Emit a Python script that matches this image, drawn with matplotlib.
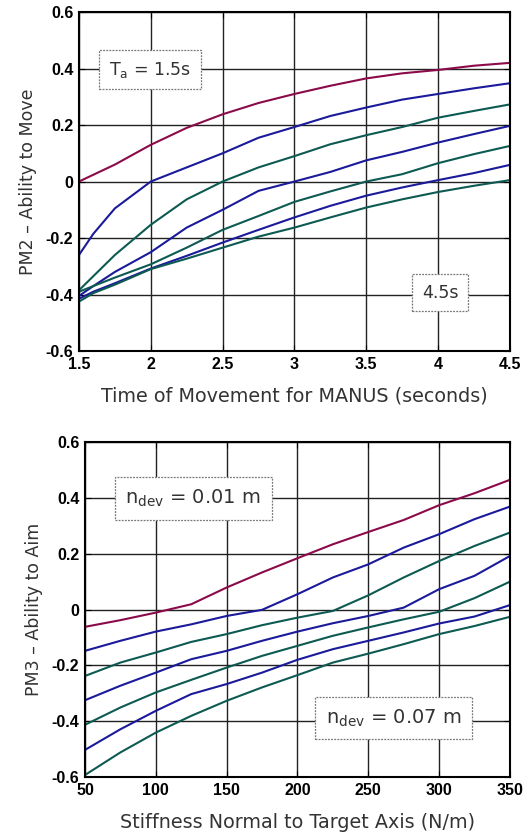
import numpy as np
import matplotlib.pyplot as plt

# PM2 vs time of movement (top panel)
time_s = [1.5, 1.6, 1.75, 2.0, 2.25, 2.5, 2.75, 3.0, 3.25, 3.5, 3.75, 4.0, 4.25, 4.5]
pm2_curves = [
    [0.0, 0.024, 0.06, 0.13, 0.19, 0.238, 0.278, 0.31, 0.339, 0.365, 0.383, 0.395, 0.41, 0.42],
    [-0.26, -0.185, -0.095, 0.0, 0.05, 0.10, 0.155, 0.193, 0.232, 0.262, 0.29, 0.31, 0.33, 0.348],
    [-0.385, -0.335, -0.26, -0.153, -0.063, 0.0, 0.05, 0.09, 0.132, 0.164, 0.193, 0.226, 0.25, 0.273],
    [-0.405, -0.37, -0.32, -0.25, -0.163, -0.10, -0.033, 0.0, 0.034, 0.075, 0.105, 0.138, 0.168, 0.197],
    [-0.39, -0.37, -0.34, -0.293, -0.234, -0.171, -0.122, -0.072, -0.035, 0.0, 0.026, 0.065, 0.097, 0.126],
    [-0.415, -0.39, -0.36, -0.308, -0.263, -0.216, -0.171, -0.127, -0.086, -0.05, -0.021, 0.005, 0.03, 0.059],
    [-0.425, -0.395, -0.365, -0.31, -0.273, -0.234, -0.195, -0.163, -0.127, -0.092, -0.063, -0.037, -0.015, 0.005],
]

# PM3 vs stiffness (bottom panel)
stiffness = [50, 75, 100, 125, 150, 175, 200, 225, 250, 275, 300, 325, 350]
pm3_curves = [
    [-0.062, -0.038, -0.011, 0.019, 0.079, 0.133, 0.184, 0.234, 0.278, 0.321, 0.374, 0.417, 0.465],
    [-0.148, -0.112, -0.079, -0.053, -0.023, -0.001, 0.055, 0.115, 0.162, 0.222, 0.27, 0.324, 0.369],
    [-0.238, -0.19, -0.154, -0.116, -0.088, -0.056, -0.029, -0.005, 0.051, 0.115, 0.174, 0.228, 0.276],
    [-0.325, -0.273, -0.226, -0.178, -0.148, -0.112, -0.079, -0.049, -0.023, 0.007, 0.073, 0.121, 0.192],
    [-0.413, -0.351, -0.297, -0.252, -0.208, -0.166, -0.13, -0.094, -0.064, -0.035, -0.008, 0.041, 0.10],
    [-0.503, -0.429, -0.363, -0.303, -0.267, -0.226, -0.18, -0.142, -0.112, -0.082, -0.05, -0.025, 0.016],
    [-0.593, -0.512, -0.441, -0.381, -0.327, -0.279, -0.235, -0.19, -0.158, -0.124, -0.088, -0.059, -0.026],
]

line_colors = ['#8b0a4a', '#1a1a9a', '#0d5a52', '#1a1a9a', '#0d5a52', '#1a1a9a', '#0d5a52']
yticks = [-0.6, -0.4, -0.2, 0, 0.2, 0.4, 0.6]
ytick_labels = ['-0.6', '-0.4', '-0.2', '0', '0.2', '0.4', '0.6']

fig = plt.figure(figsize=(5.23, 8.35), dpi=100)
ax1 = fig.add_axes([0.151, 0.5796, 0.824, 0.406])
ax2 = fig.add_axes([0.1625, 0.0695, 0.8126, 0.401])

box_style = dict(boxstyle='square,pad=0.55', fc='white', ec='#777777', ls=(0, (1.5, 1)), lw=0.9)


def style_axes(ax, xticks, xlabels, ylabel, xlabel):
    ax.set_yticks(yticks)
    ax.set_yticklabels(ytick_labels)
    ax.set_xticks(xticks)
    ax.set_xticklabels(xlabels)
    ax.set_ylim(-0.6, 0.6)
    ax.grid(True, color='#222222', lw=1.0)
    ax.set_axisbelow(True)
    ax.tick_params(direction='in', length=4, top=True, right=True, labelsize=11.5, pad=4)
    for lab in ax.get_xticklabels() + ax.get_yticklabels():
        lab.set_fontweight('bold')
        lab.set_family('Liberation Sans')
    for sp in ax.spines.values():
        sp.set_linewidth(1.5)
    ax.set_ylabel(ylabel, fontsize=12.5, color='#333333', labelpad=6)
    ax.set_xlabel(xlabel, fontsize=13.8, color='#333333', labelpad=11)


for ys, c in zip(pm2_curves, line_colors):
    ax1.plot(time_s, ys, color=c, lw=1.5)
ax1.set_xlim(1.5, 4.5)
style_axes(ax1, [1.5, 2, 2.5, 3, 3.5, 4, 4.5], ['1.5', '2', '2.5', '3', '3.5', '4', '4.5'],
           'PM2 \u2013 Ability to Move', 'Time of Movement for MANUS (seconds)')
ax1.text(1.995, 0.395, r'T$_{\mathregular{a}}$ = 1.5s', fontsize=12.5, color='#333333',
         ha='center', va='center', bbox=box_style)
ax1.text(4.015, -0.394, '4.5s', fontsize=12.5, color='#333333',
         ha='center', va='center', bbox=box_style)

for ys, c in zip(pm3_curves, line_colors):
    ax2.plot(stiffness, ys, color=c, lw=1.5)
ax2.set_xlim(50, 350)
style_axes(ax2, [50, 100, 150, 200, 250, 300, 350], ['50', '100', '150', '200', '250', '300', '350'],
           'PM3 \u2013 Ability to Aim', 'Stiffness Normal to Target Axis (N/m)')
ax2.text(126.5, 0.399, r'n$_{\mathregular{dev}}$ = 0.01 m', fontsize=14, color='#333333',
         ha='center', va='center', bbox=box_style)
ax2.text(267.8, -0.389, r'n$_{\mathregular{dev}}$ = 0.07 m', fontsize=14, color='#333333',
         ha='center', va='center', bbox=box_style)

fig.savefig('out.png', dpi=100)
